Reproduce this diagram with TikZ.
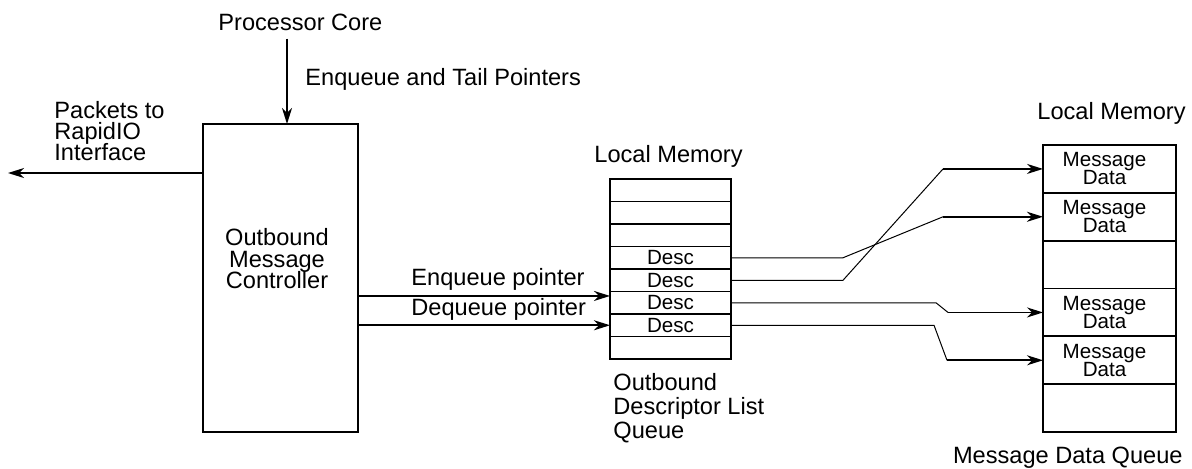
\documentclass[tikz,border=0pt]{standalone}
\usepackage{fontspec}
\setmainfont{Liberation Sans}
\usetikzlibrary{arrows.meta,calc}
\newcommand\tightlines{\lineskiplimit=-10pt\relax}
\begin{document}
\begin{tikzpicture}[x=0.5pt,y=-0.5pt,
  tip/.style={-{Stealth[length=8pt,width=5pt,inset=2.5pt]}},
  arr/.style={line width=0.85pt,tip},
  thin/.style={line width=0.5pt},
  thick/.style={line width=0.85pt,tip},
  big/.style={font=\fontsize{11.8pt}{10.6pt}\selectfont\tightlines},
  small/.style={font=\fontsize{10.3pt}{9pt}\selectfont\tightlines},
  lbl/.style={big,inner sep=0pt,align=left},
  row/.style={draw,line width=0.9pt,minimum width=60.5pt,minimum height=11.25pt,inner sep=0pt,outer sep=0pt,anchor=north west,small},
  mrow/.style={draw,line width=0.9pt,minimum width=66.5pt,minimum height=23.92pt,inner sep=0pt,outer sep=0pt,anchor=north west},
  mtxt/.style={small,inner sep=0pt,align=center}
]
\useasboundingbox (0,0) rectangle (1192,468);

% controller
\node[draw,line width=1pt,minimum width=77.5pt,minimum height=154pt,inner sep=0pt,outer sep=0pt] (ctrl) at (280.5,278) {};
\node[lbl,align=center,anchor=north,font=\fontsize{11.8pt}{10.75pt}\selectfont\tightlines] (ctrltxt) at (277,228) {Outbound\\Message\\Controller};

% processor core
\node[lbl,anchor=base west] (pc) at (218,30) {Processor Core};
\coordinate (ctrlin) at ([xshift=3.25pt]ctrl.north);
\draw[arr] ([yshift=-4pt]pc.south -| ctrlin) -- (ctrlin);
\node[lbl,anchor=base west] (etp) at (305,85) {Enqueue and Tail Pointers};

% packets out
\node[lbl,anchor=north west,font=\fontsize{11.8pt}{10.5pt}\selectfont\tightlines] (pkt) at (54,101) {Packets to\\RapidIO\\Interface};
\coordinate (pktout) at (8,173);
\draw[arr] (ctrl.west |- pktout) -- (pktout);

% descriptor list
\node[row] (d1) at (610,179) {};
\node[row] (d2) at (d1.south west) {};
\node[row] (d3) at (d2.south west) {};
\node[row] (d4) at (d3.south west) {Desc};
\node[row] (d5) at (d4.south west) {Desc};
\node[row] (d6) at (d5.south west) {Desc};
\node[row] (d7) at (d6.south west) {Desc};
\node[row] (d8) at (d7.south west) {};
\draw[line width=1.1pt] (d1.north west) rectangle (d8.south east);
\node[lbl,anchor=base west] (lm1) at (594,162) {Local Memory};
\node[lbl,anchor=north west,font=\fontsize{11.8pt}{12pt}\selectfont\tightlines] (odl) at (613,373) {Outbound\\Descriptor List\\Queue};

% pointers
\node[lbl,anchor=base west] (enqt) at (411,285) {Enqueue pointer};
\node[lbl,anchor=base west] (deqt) at (411,315) {Dequeue pointer};
\coordinate (enq) at ([yshift=3.4pt]d6.west);
\draw[arr] (ctrl.east |- enq) -- (enq);
\draw[arr] (ctrl.east |- d7.west) -- (d7.west);

% message data queue
\node[mrow] (m1) at (1043,145) {};
\node[mrow] (m2) at (m1.south west) {};
\node[mrow] (m3) at (m2.south west) {};
\node[mrow] (m4) at (m3.south west) {};
\node[mrow] (m5) at (m4.south west) {};
\node[mrow] (m6) at (m5.south west) {};
\draw[line width=1.1pt] (m1.north west) rectangle (m6.south east);
\foreach \m in {m1,m2,m4,m5}{
  \node[mtxt] at ([xshift=-2.5pt]\m.center) {Message\\Data};
}
\node[lbl,anchor=base east] (lm2) at (1186,119) {Local Memory};
\node[lbl,anchor=base east] (mdq) at (1183,463) {Message Data Queue};

% connectors
\coordinate (b1) at ($(m2.west)+(-100,0)$);
\coordinate (b2) at ($(m1.west)+(-100,0)$);
\coordinate (b3) at ($(m4.west)+(-95,0)$);
\coordinate (b4) at ($(m5.west)+(-96,0)$);
\draw[thin] (d4.east) -- ++(112,0) -- (b1);
\draw[thick] (b1) -- (m2.west);
\draw[thin] (d5.east) -- ++(112,0) -- (b2);
\draw[thick] (b2) -- (m1.west);
\draw[thin] (d6.east) -- ++(205,0) -- (b3);
\draw[thick] (b3) -- (m4.west);
\draw[thin] (d7.east) -- ++(203,0) -- (b4);
\draw[thick] (b4) -- (m5.west);
\end{tikzpicture}
\end{document}
